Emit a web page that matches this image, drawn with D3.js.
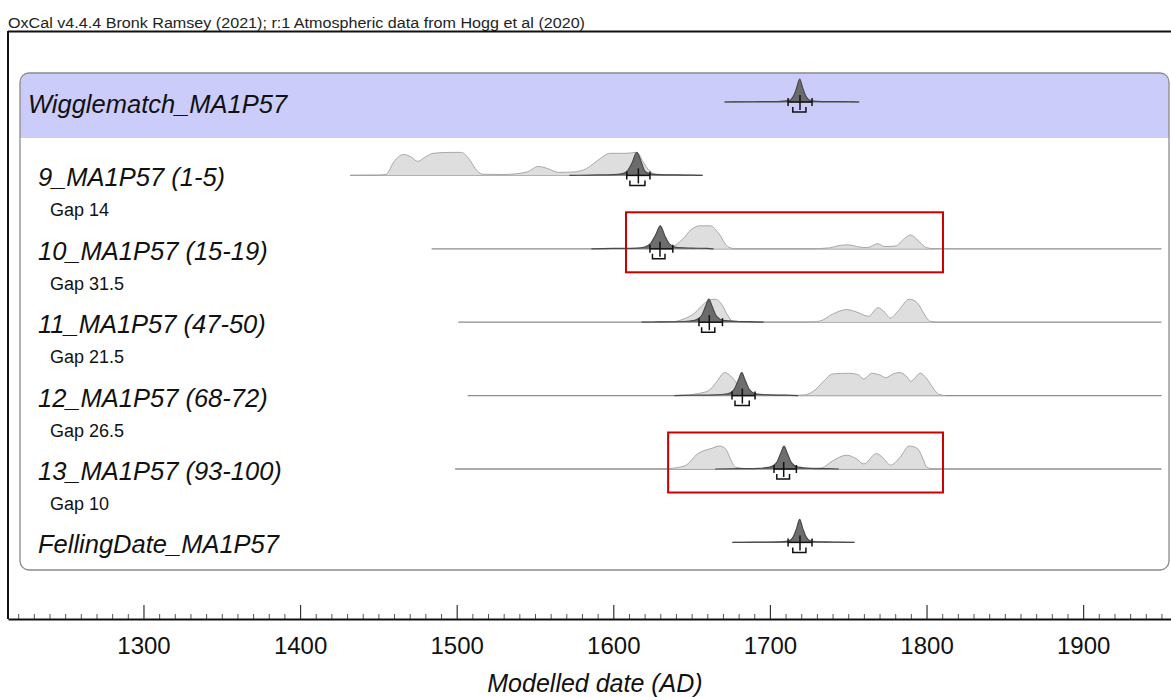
<!DOCTYPE html>
<html><head><meta charset="utf-8">
<script src="https://cdn.jsdelivr.net/npm/d3@7"></script>
<style>
body{margin:0;background:#fff;}
svg{display:block;font-family:"Liberation Sans",Arial,sans-serif;}
</style></head>
<body>
<svg id="chart" width="1171" height="697"></svg>
<script>
// ---------- DATA ----------
const headerText = "OxCal v4.4.4 Bronk Ramsey (2021); r:1 Atmospheric data from Hogg et al (2020)";
const axisTitle = "Modelled date (AD)";
const majorTicks = [1300,1400,1500,1600,1700,1800,1900];
const rowNames = ["Wigglematch_MA1P57","9_MA1P57 (1-5)","10_MA1P57 (15-19)","11_MA1P57 (47-50)","12_MA1P57 (68-72)","13_MA1P57 (93-100)","FellingDate_MA1P57"];
const gapLabels = [null,"Gap 14","Gap 31.5","Gap 21.5","Gap 26.5","Gap 10",null];
// baseline (full range) of each row, years
const baselineRanges = [[1671,1757],[1432,1657],[1484,1950],[1501,1950],[1507,1950],[1499,1950],[1676,1754]];
// likelihood (light) distributions: [year, relative %]
const lightDist = [
  [],
  [[1432,0],[1450,1],[1455,5],[1460,60],[1466,91],[1471,80],[1475,61],[1480,80],[1485,96],[1495,100],[1503,100],[1508,70],[1513,20],[1517,5],[1530,4],[1545,15],[1552,39],[1558,30],[1565,13],[1575,15],[1583,30],[1590,65],[1598,96],[1608,96],[1615,100],[1619,60],[1623,20],[1628,5],[1640,2],[1650,1],[1657,0]],
  [[1620,0],[1630,3],[1638,10],[1644,40],[1650,85],[1655,100],[1662,100],[1667,70],[1673,10],[1678,0],[1725,0],[1738,4],[1745,15],[1750,17],[1757,8],[1762,5],[1769,22],[1773,10],[1780,12],[1786,45],[1790,60],[1794,40],[1800,5],[1805,0]],
  [[1635,0],[1641,5],[1647,20],[1652,40],[1657,75],[1661,95],[1665,100],[1669,80],[1673,30],[1676,5],[1680,0],[1725,0],[1732,5],[1740,35],[1749,55],[1755,45],[1763,26],[1769,63],[1773,45],[1777,18],[1782,50],[1789,100],[1794,85],[1799,30],[1802,5],[1806,0]],
  [[1640,0],[1648,3],[1655,10],[1661,22],[1666,60],[1671,100],[1675,85],[1680,45],[1684,20],[1690,5],[1700,2],[1715,1],[1722,3],[1728,20],[1734,60],[1740,94],[1750,97],[1756,92],[1760,72],[1765,97],[1770,90],[1774,78],[1779,95],[1783,100],[1787,85],[1790,62],[1796,97],[1800,75],[1804,35],[1808,5],[1812,0]],
  [[1630,0],[1636,2],[1646,15],[1654,67],[1663,90],[1668,100],[1672,85],[1675,40],[1678,8],[1685,2],[1700,1],[1720,1],[1733,5],[1740,35],[1749,60],[1755,45],[1760,22],[1768,67],[1772,50],[1777,17],[1783,50],[1789,100],[1794,90],[1798,40],[1800,8],[1805,0]],
  []
];
// posterior (dark) distributions: [year, relative %]
const darkDist = [
  [[1671,0],[1690,1],[1705,2],[1712,6],[1715,25],[1717,60],[1719,100],[1721,60],[1723,25],[1726,6],[1730,2.5],[1738,1.5],[1745,2],[1750,1],[1757,0]],
  [[1572,0],[1585,1.5],[1600,3],[1606,8],[1609,20],[1612,55],[1615,100],[1618,55],[1620,20],[1623,8],[1628,3],[1640,2],[1650,1],[1657,0]],
  [[1586,0],[1600,1.5],[1615,3],[1620,8],[1624,25],[1627,60],[1630,100],[1633,55],[1636,20],[1640,6],[1650,3],[1660,1.5],[1664,0]],
  [[1618,0],[1630,1.5],[1645,3],[1652,8],[1656,25],[1659,70],[1661,100],[1663,70],[1666,25],[1670,8],[1680,3],[1690,1.5],[1696,0]],
  [[1639,0],[1650,1.5],[1665,3],[1673,8],[1677,25],[1680,70],[1682,100],[1684,70],[1687,25],[1691,8],[1700,3],[1710,2],[1718,0]],
  [[1665,0],[1680,1.5],[1693,3],[1700,8],[1704,25],[1707,70],[1709,100],[1711,70],[1714,25],[1718,8],[1727,3],[1737,1.5],[1744,0]],
  [[1676,0],[1690,1],[1705,2],[1712,6],[1715,25],[1717,60],[1719,100],[1721,60],[1723,25],[1726,6],[1735,2],[1745,1.5],[1754,0]]
];
// summary markers: [bar from, bar to, mean, bracket from, bracket to]
const markers = [
  [1711.6,1726.9,1719.2,1714.6,1723.0],
  [1608.6,1623.4,1616.0,1610.6,1620.2],
  [1623.4,1638.0,1629.8,1625.0,1633.0],
  [1654.7,1669.7,1661.3,1656.4,1664.8],
  [1675.8,1690.5,1682.4,1677.7,1686.8],
  [1702.6,1716.9,1708.8,1704.4,1712.5],
  [1711.6,1726.9,1719.2,1714.6,1723.0]
];
// red highlight boxes: [row index, year from, year to]
const highlightBoxes = [[2,1608.1,1810.5],[5,1635.0,1810.5]];

// ---------- LAYOUT ----------
const svg = d3.select("#chart");
const x = d3.scaleLinear().domain([1213.5,1956.1]).range([8,1171]);
const rowY = d3.scaleLinear().domain([0,6]).range([102,542.4]);
const h = d3.scaleLinear().domain([0,100]).range([0,23]);
const axisY = 619;

// header
svg.append("text").attr("x",8).attr("y",28).attr("font-size",14).attr("fill","#222")
  .attr("textLength",577).attr("lengthAdjust","spacingAndGlyphs").text(headerText);

// outer frame
svg.append("line").attr("x1",8).attr("x2",1171).attr("y1",31.5).attr("y2",31.5).attr("stroke","#111").attr("stroke-width",2);
svg.append("line").attr("x1",8).attr("x2",8).attr("y1",31).attr("y2",axisY).attr("stroke","#111").attr("stroke-width",2);

// panel
const panel = {x:20,y:73,w:1149,h:497,r:9};
svg.append("defs").append("clipPath").attr("id","pclip").append("rect")
  .attr("x",panel.x).attr("y",panel.y).attr("width",panel.w).attr("height",panel.h).attr("rx",panel.r);
svg.append("rect").attr("x",panel.x).attr("y",panel.y).attr("width",panel.w).attr("height",panel.h).attr("rx",panel.r)
  .attr("fill","#fff");
svg.append("rect").attr("clip-path","url(#pclip)").attr("x",panel.x).attr("y",rowY(0)-29)
  .attr("width",panel.w).attr("height",65).attr("fill","#ccccfb");
svg.append("rect").attr("x",panel.x).attr("y",panel.y).attr("width",panel.w).attr("height",panel.h).attr("rx",panel.r)
  .attr("fill","none").attr("stroke","#8a8a8a").attr("stroke-width",1.3);

// rows
const area = d3.area().x(d=>x(d[0])).y0(0).y1(d=>-h(d[1])).curve(d3.curveMonotoneX);
const line = d3.line().x(d=>x(d[0])).y(d=>-h(d[1])).curve(d3.curveMonotoneX);

rowNames.forEach((name,i)=>{
  const g = svg.append("g").attr("transform",`translate(0,${rowY(i)})`);
  // labels
  g.append("text").attr("x", (i===0)?28:38).attr("y",11).attr("font-size",25.5).attr("font-style","italic")
    .attr("fill","#111").text(name);
  if(gapLabels[i]) g.append("text").attr("x",50).attr("y",41).attr("font-size",18).attr("fill","#111").text(gapLabels[i]);
  // baseline
  const br = baselineRanges[i];
  g.append("line").attr("x1",x(br[0])).attr("x2",x(br[1])).attr("y1",0).attr("y2",0).attr("stroke","#8c8c8c").attr("stroke-width",1.3);
  // light
  if(lightDist[i].length){
    g.append("path").datum(lightDist[i]).attr("d",area).attr("fill","#dcdcdc").attr("fill-opacity",0.95);
    g.append("path").datum(lightDist[i]).attr("d",line).attr("fill","none").attr("stroke","#a8a8a8").attr("stroke-width",1);
  }
  // dark
  g.append("path").datum(darkDist[i]).attr("d",area).attr("fill","#5e5e5e").attr("fill-opacity",0.9);
  g.append("path").datum(darkDist[i]).attr("d",line).attr("fill","none").attr("stroke","#4a4a4a").attr("stroke-width",1.2);
  // markers
  const m = markers[i];
  const mk = g.append("g").attr("stroke","#111").attr("stroke-width",1.5).attr("fill","none");
  mk.append("line").attr("x1",x(m[0])).attr("x2",x(m[1])).attr("y1",0).attr("y2",0);
  mk.append("line").attr("x1",x(m[0])).attr("x2",x(m[0])).attr("y1",-4).attr("y2",4);
  mk.append("line").attr("x1",x(m[1])).attr("x2",x(m[1])).attr("y1",-4).attr("y2",4);
  mk.append("line").attr("x1",x(m[2])).attr("x2",x(m[2])).attr("y1",-7).attr("y2",8);
  mk.append("path").attr("d",`M${x(m[3])},5V10H${x(m[4])}V5`);
});

// highlight boxes
highlightBoxes.forEach(b=>{
  const y0 = rowY(b[0]);
  svg.append("rect").attr("x",x(b[1])).attr("y",y0-36.5).attr("width",x(b[2])-x(b[1])).attr("height",60)
    .attr("fill","none").attr("stroke","#c80000").attr("stroke-width",2);
});

// axis
const minor = d3.range(1220,1960,10).filter(v=>v%100!==0);
svg.append("g").attr("transform",`translate(0,${axisY})`)
  .call(d3.axisBottom(x).tickValues(minor).tickSizeInner(-5).tickSizeOuter(0).tickFormat(""))
  .call(g=>{g.select(".domain").remove(); g.selectAll("line").attr("stroke","#555");});
const ax = svg.append("g").attr("transform",`translate(0,${axisY})`)
  .call(d3.axisBottom(x).tickValues(majorTicks).tickSizeInner(-14).tickSizeOuter(0).tickPadding(18).tickFormat(d3.format("d")));
ax.select(".domain").attr("stroke","#111").attr("stroke-width",2);
ax.selectAll(".tick line").attr("stroke","#333").attr("stroke-width",1.2);
ax.selectAll(".tick text").attr("font-size",24).attr("font-family","Liberation Sans, Arial, sans-serif").attr("fill","#111");
svg.append("text").attr("x",595).attr("y",692).attr("text-anchor","middle").attr("font-size",25)
  .attr("font-style","italic").attr("fill","#111").text(axisTitle);
</script>
</body></html>
